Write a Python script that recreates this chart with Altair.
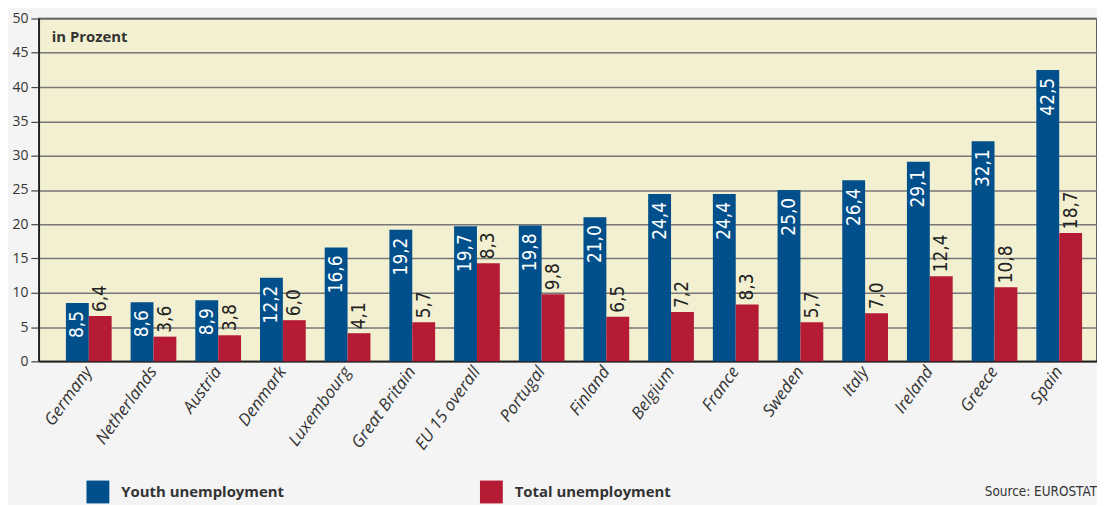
import altair as alt
import pandas as pd

countries = ["Germany", "Netherlands", "Austria", "Denmark", "Luxembourg",
             "Great Britain", "EU 15 overall", "Portugal", "Finland", "Belgium",
             "France", "Sweden", "Italy", "Ireland", "Greece", "Spain"]
youth = [8.5, 8.6, 8.9, 12.2, 16.6, 19.2, 19.7, 19.8, 21.0, 24.4, 24.4, 25.0, 26.4, 29.1, 32.1, 42.5]
total = [6.6, 3.6, 3.8, 6.0, 4.1, 5.7, 14.3, 9.8, 6.5, 7.2, 8.3, 5.7, 7.0, 12.4, 10.8, 18.7]
youth_labels = ["8,5", "8,6", "8,9", "12,2", "16,6", "19,2", "19,7", "19,8", "21,0",
                "24,4", "24,4", "25,0", "26,4", "29,1", "32,1", "42,5"]
total_labels = ["6,4", "3,6", "3,8", "6,0", "4,1", "5,7", "8,3", "9,8", "6,5",
                "7,2", "8,3", "5,7", "7,0", "12,4", "10,8", "18,7"]
series = ["Youth unemployment", "Total unemployment"]
colors = ["#01508b", "#b51b35"]
y_ticks = [0, 5, 10, 15, 20, 25, 30, 35, 40, 45, 50]

rows = []
for c, yv, tv, yl, tl in zip(countries, youth, total, youth_labels, total_labels):
    rows.append({"country": c, "series": series[0], "value": yv, "label": yl})
    rows.append({"country": c, "series": series[1], "value": tv, "label": tl})
df = pd.DataFrame(rows)

W, H = 1065, 345
COND = "DejaVu Sans Condensed, DejaVu Sans, sans-serif"

x_enc = alt.X("country:N", sort=countries,
              scale=alt.Scale(paddingInner=0.293, paddingOuter=0.325, align=0.645),
              axis=alt.Axis(title=None, labelAngle=-54, ticks=False, labelPadding=7,
                            labelAlign="right", labelBaseline="middle",
                            labelFont="Open Sans", labelFontStyle="italic",
                            labelFontSize=17, labelColor="#333333",
                            domainColor="#222222", domainWidth=1.5, grid=False))
xo_enc = alt.XOffset("series:N", sort=series,
                     scale=alt.Scale(domain=series, paddingInner=0, paddingOuter=0))
y_enc = alt.Y("value:Q", scale=alt.Scale(domain=[0, 50], nice=False),
              axis=alt.Axis(title=None, values=y_ticks, tickSize=8, labelPadding=3,
                            minExtent=31, maxExtent=31, labelOverlap=False,
                            labelFont="Open Sans", labelFontSize=14, labelColor="#333333",
                            tickColor="#444444", tickWidth=1.2,
                            domainColor="#222222", domainWidth=1.5,
                            gridColor="#777777", gridWidth=1.5))

base = alt.Chart(df)

bars = base.mark_bar().encode(
    x=x_enc, xOffset=xo_enc, y=y_enc,
    color=alt.Color("series:N", sort=series,
                    scale=alt.Scale(domain=series, range=colors),
                    legend=alt.Legend(title=None, orient="none", legendX=48, legendY=465,
                                      direction="horizontal", symbolType="square",
                                      symbolSize=529, symbolStrokeWidth=0,
                                      labelFont="Open Sans", labelFontWeight="bold",
                                      labelFontSize=15, labelColor="#333333",
                                      labelOffset=12, columnPadding=197,
                                      labelLimit=300)),
)

youth_text = base.transform_filter(alt.datum.series == series[0]).mark_text(
    angle=270, align="right", baseline="middle", dx=-8,
    font=COND, fontSize=19, color="white",
).encode(x=x_enc, xOffset=xo_enc, y=y_enc, text="label:N")

total_text = base.transform_filter(alt.datum.series == series[1]).mark_text(
    angle=270, align="left", baseline="middle", dx=4,
    font=COND, fontSize=19, color="#222222",
).encode(x=x_enc, xOffset=xo_enc, y=y_enc, text="label:N")

unit_text = alt.Chart(pd.DataFrame({"t": ["in Prozent"]})).mark_text(
    align="left", baseline="alphabetic", font="Open Sans", fontWeight="bold",
    fontSize=15, color="#333333",
).encode(x=alt.value(13), y=alt.value(24), text="t:N")

source_text = alt.Chart(pd.DataFrame({"t": ["Source: EUROSTAT"]})).mark_text(
    align="right", baseline="middle", font=COND,
    fontSize=13.5, color="#333333",
).encode(x=alt.value(W), y=alt.value(477), text="t:N")

chart = alt.layer(bars, youth_text, total_text, unit_text, source_text).properties(
    width=W, height=H,
    background="#f4f4f4",
    padding={"left": 0, "top": 2, "right": 0, "bottom": 0},
).configure_view(
    fill="#f2f0d0", stroke="#333333", strokeWidth=1.5,
)

chart.save("out.html", embed_options={"renderer": "svg", "actions": False})
